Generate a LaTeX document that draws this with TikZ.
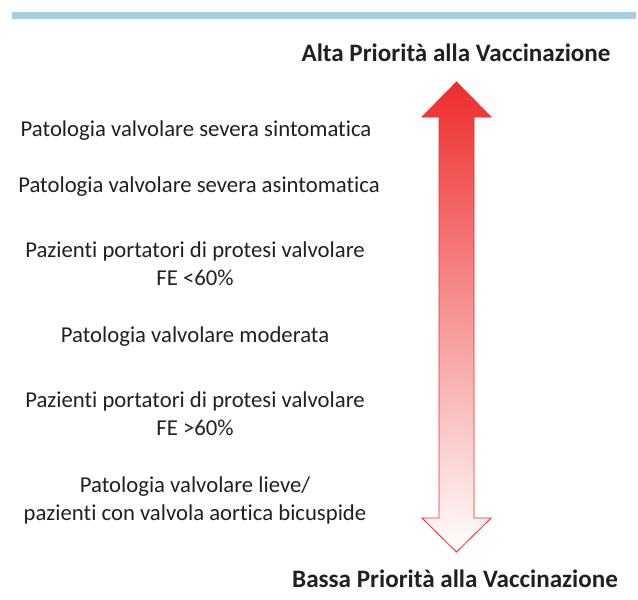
\documentclass[tikz,border=0pt]{standalone}
\usepackage{fontspec}
\setmainfont{Carlito}[Ligatures=NoCommon]
\definecolor{barblue}{RGB}{166,206,227}
\definecolor{arrowred}{RGB}{238,44,44}
\definecolor{txtgray}{RGB}{35,31,32}
\tikzset{
	item/.style={align=center,anchor=base,inner sep=0,text=txtgray,font=\fontsize{22.8}{27.5}\selectfont},
	title/.style={anchor=base,inner sep=0,text=txtgray,font=\fontsize{25.2}{30}\selectfont\bfseries}
}
\begin{document}
\begin{tikzpicture}[x=1bp,y=-1bp]
			\useasboundingbox (0,0) rectangle (638,600);
			%Top bar
			\fill[barblue] (12,12) rectangle (636,19);
			%Titles
			\node[title] (high) at (456,62) {Alta Priorità alla Vaccinazione};
			\node[title] (low) at (455,587) {Bassa Priorità alla Vaccinazione};
			%Arrow
			\draw[arrowred,top color=arrowred,bottom color=white,line width=0.8bp]
				(456.5,82) -- (491,117) -- (474,117) -- (474,518) -- (491,518) -- (456.5,552)
				-- (422,518) -- (439,518) -- (439,117) -- (422,117) -- cycle;
			%Levels (base = last line)
			\node[item] (sev1) at (196,137) {Patologia valvolare severa sintomatica};
			\node[item] (sev2) at (199,192) {Patologia valvolare severa asintomatica};
			\node[item] (prot1) at (195,285) {Pazienti portatori di protesi valvolare\\FE <60\%};
			\node[item] (mod) at (195,342) {Patologia valvolare moderata};
			\node[item] (prot2) at (195,435) {Pazienti portatori di protesi valvolare\\FE >60\%};
			\node[item] (mild) at (195,520) {Patologia valvolare lieve/\\pazienti con valvola aortica bicuspide};
\end{tikzpicture}
\end{document}
